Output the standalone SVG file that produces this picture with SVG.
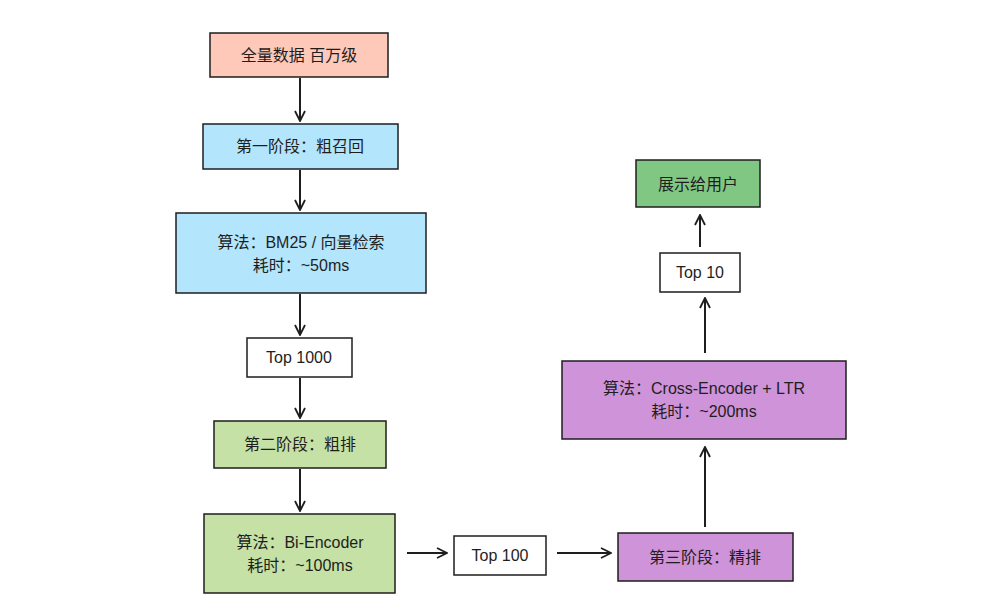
<svg xmlns="http://www.w3.org/2000/svg" width="1002" height="612" viewBox="0 0 1002 612">
<style>
.n{stroke:#1e1e1e;stroke-width:1.5}
text{font-family:"Liberation Sans","Noto Sans CJK SC",sans-serif;font-size:16px;fill:#1e1e1e;text-anchor:middle;dominant-baseline:central}
.c{stroke:#1e1e1e;stroke-width:2;fill:none;marker-end:url(#a)}
</style>
<defs><marker id="a" viewBox="0 0 12 12" refX="11" refY="6" markerWidth="12" markerHeight="12" markerUnits="userSpaceOnUse" orient="auto"><path d="M1 1L11 6L1 11" fill="none" stroke="#1e1e1e" stroke-width="1.8"/></marker></defs>
<rect width="1002" height="612" fill="#fff"/>
<g id="n1"><rect class="n" x="210" y="33" width="178" height="44" fill="#ffc9b9"/><text x="299" y="55">全量数据 百万级</text></g>
<g id="n2"><rect class="n" x="203" y="124" width="195" height="45" fill="#b3e5fc"/><text x="300" y="146">第一阶段：粗召回</text></g>
<g id="n3"><rect class="n" x="176" y="213" width="250" height="80" fill="#b3e5fc"/><text x="301" y="242">算法：BM25 / 向量检索</text><text x="301" y="265">耗时：~50ms</text></g>
<g id="n4"><rect class="n" x="247" y="338" width="105" height="39" fill="#fff"/><text x="299" y="357">Top 1000</text></g>
<g id="n5"><rect class="n" x="214" y="421" width="172" height="47" fill="#c5e1a5"/><text x="300" y="444">第二阶段：粗排</text></g>
<g id="n6"><rect class="n" x="204" y="514" width="191" height="79" fill="#c5e1a5"/><text x="300" y="542">算法：Bi-Encoder</text><text x="300" y="565">耗时：~100ms</text></g>
<g id="n7"><rect class="n" x="454" y="536" width="92" height="39" fill="#fff"/><text x="500" y="555">Top 100</text></g>
<g id="n8"><rect class="n" x="618" y="533" width="175" height="48" fill="#ce93d8"/><text x="705" y="557">第三阶段：精排</text></g>
<g id="n9"><rect class="n" x="562" y="361" width="284" height="78" fill="#ce93d8"/><text x="704" y="388">算法：Cross-Encoder + LTR</text><text x="704" y="411">耗时：~200ms</text></g>
<g id="n10"><rect class="n" x="660" y="253" width="80" height="39" fill="#fff"/><text x="700" y="272">Top 10</text></g>
<g id="n11"><rect class="n" x="636" y="160" width="124" height="47" fill="#81c784"/><text x="698" y="184">展示给用户</text></g>
<g id="connectors">
<path class="c" d="M300 78V121"/>
<path class="c" d="M300 170V210"/>
<path class="c" d="M300 294V335"/>
<path class="c" d="M300 378V418"/>
<path class="c" d="M300 469V511"/>
<path class="c" d="M407 553H447"/>
<path class="c" d="M557 553H611"/>
<path class="c" d="M705 527V447"/>
<path class="c" d="M705 353V298"/>
<path class="c" d="M700 247V215"/>
</g>
</svg>
